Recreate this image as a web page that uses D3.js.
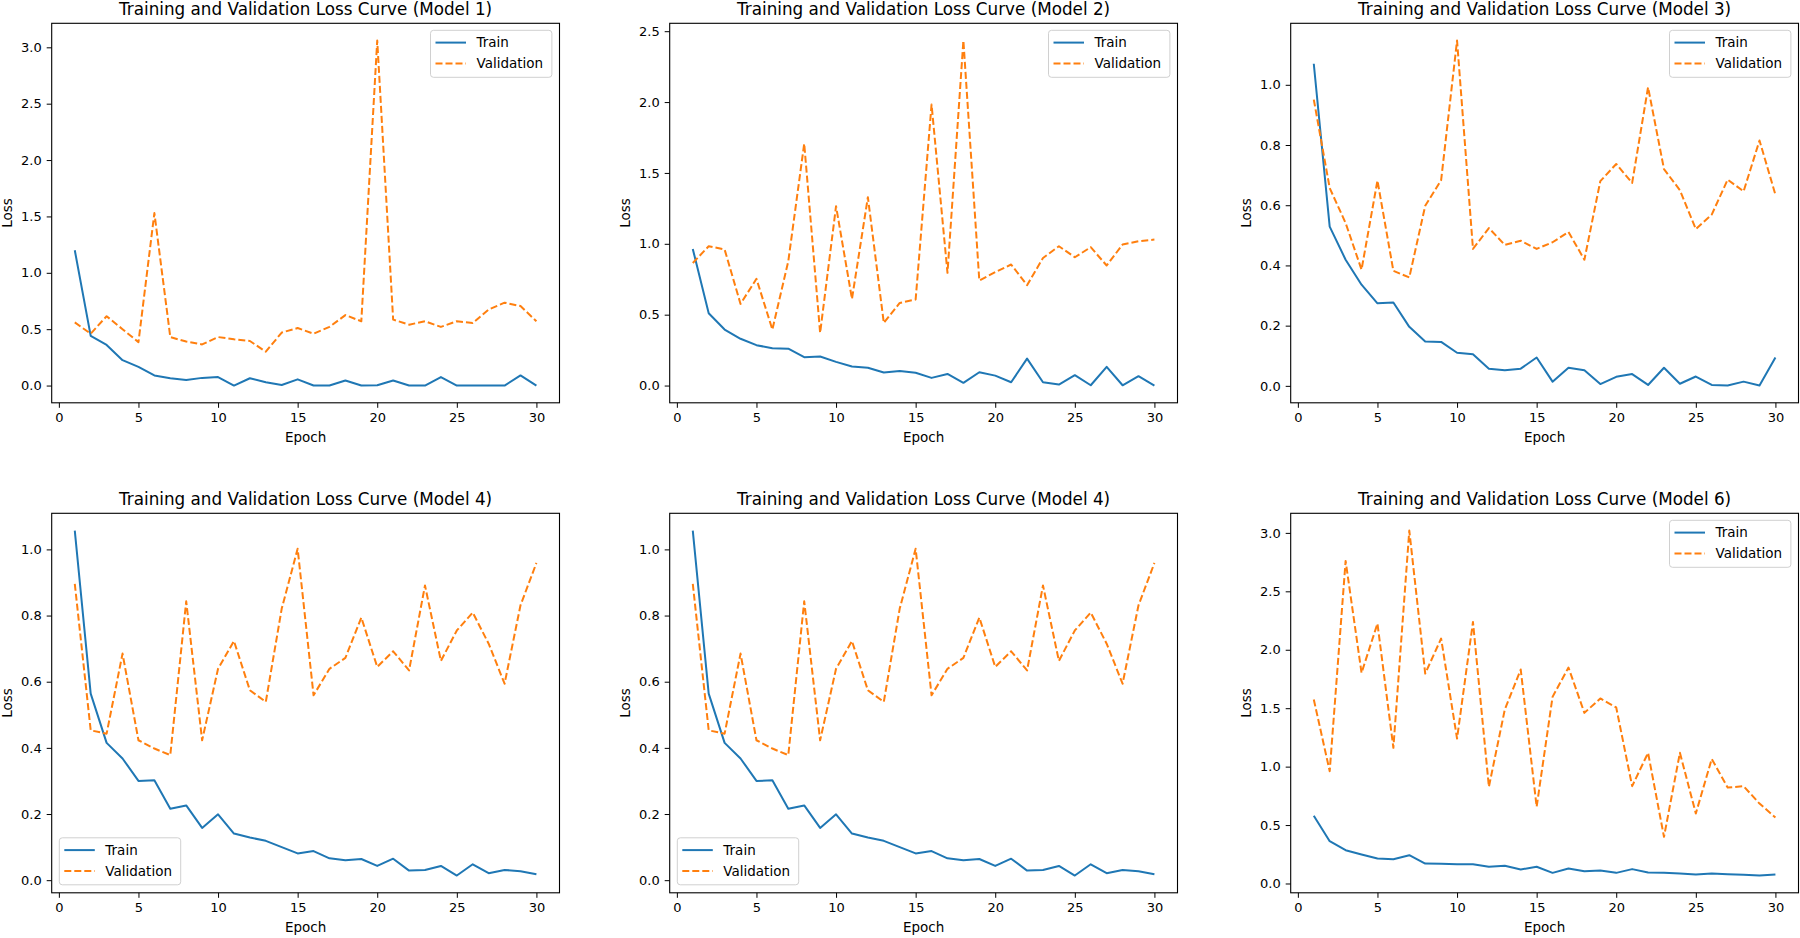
<!DOCTYPE html>
<html>
<head>
<meta charset="utf-8">
<script src="https://cdn.jsdelivr.net/npm/d3@7"></script>
<style>
  html, body { margin: 0; padding: 0; background: #fff; }
  svg { display: block; font-family: "DejaVu Sans", sans-serif; }
</style>
</head>
<body>
<svg id="chart" width="1800" height="938"></svg>
<script>
// ---------------- data ----------------
const epochs = d3.range(1, 31);
const xTicks = [0, 5, 10, 15, 20, 25, 30];

const titles = [
  "Training and Validation Loss Curve (Model 1)",
  "Training and Validation Loss Curve (Model 2)",
  "Training and Validation Loss Curve (Model 3)",
  "Training and Validation Loss Curve (Model 4)",
  "Training and Validation Loss Curve (Model 4)",
  "Training and Validation Loss Curve (Model 6)"
];

const trainM1 = [1.20,0.44,0.36,0.225,0.165,0.09,0.065,0.05,0.068,0.075,0.0,0.065,0.03,0.005,0.055,0.0,0.0,0.045,0.0,0.003,0.045,0.0,0.0,0.075,0.0,0.0,0.0,0.0,0.09,0.0];
const valM1   = [0.56,0.46,0.615,0.50,0.385,1.53,0.43,0.39,0.365,0.43,0.41,0.395,0.30,0.47,0.51,0.46,0.52,0.625,0.57,3.06,0.585,0.54,0.57,0.52,0.57,0.555,0.675,0.735,0.705,0.57];

const trainM2 = [0.964,0.51,0.395,0.33,0.285,0.263,0.26,0.20,0.205,0.167,0.134,0.125,0.092,0.103,0.09,0.054,0.082,0.019,0.094,0.07,0.023,0.19,0.023,0.007,0.073,0.002,0.132,0.002,0.066,0.0];
const valM2   = [0.865,0.983,0.96,0.576,0.753,0.395,0.877,1.707,0.372,1.265,0.611,1.329,0.442,0.583,0.607,1.983,0.795,2.434,0.741,0.80,0.854,0.708,0.90,0.983,0.905,0.976,0.847,0.995,1.018,1.03];

const trainM3 = [1.07,0.529,0.419,0.336,0.274,0.277,0.196,0.147,0.146,0.11,0.105,0.057,0.052,0.057,0.094,0.014,0.06,0.052,0.006,0.03,0.039,0.003,0.06,0.007,0.031,0.003,0.001,0.014,0.001,0.094];
const valM3   = [0.951,0.657,0.541,0.386,0.682,0.382,0.36,0.598,0.683,1.147,0.455,0.524,0.468,0.482,0.455,0.477,0.511,0.419,0.68,0.737,0.674,0.992,0.72,0.65,0.521,0.569,0.685,0.646,0.815,0.635];

const trainM4 = [1.057,0.564,0.415,0.368,0.30,0.302,0.216,0.226,0.158,0.199,0.141,0.129,0.119,0.10,0.081,0.088,0.066,0.06,0.064,0.043,0.065,0.029,0.031,0.043,0.014,0.048,0.021,0.031,0.027,0.018];
const valM4   = [0.896,0.453,0.443,0.685,0.423,0.398,0.378,0.843,0.423,0.639,0.723,0.574,0.539,0.821,1.002,0.559,0.639,0.672,0.794,0.645,0.692,0.634,0.891,0.663,0.755,0.809,0.715,0.594,0.831,0.959];

const trainM6 = [0.579,0.362,0.285,0.248,0.214,0.208,0.242,0.171,0.168,0.165,0.165,0.143,0.151,0.12,0.143,0.091,0.128,0.105,0.111,0.091,0.123,0.094,0.091,0.086,0.077,0.086,0.08,0.074,0.068,0.077];
const valM6   = [1.574,0.961,2.76,1.802,2.224,1.161,3.02,1.796,2.096,1.24,2.238,0.827,1.488,1.831,0.656,1.597,1.848,1.46,1.583,1.506,0.833,1.118,0.399,1.118,0.599,1.066,0.821,0.833,0.684,0.565];

const yTicksM1 = [0.0,0.5,1.0,1.5,2.0,2.5,3.0];
const yTicksM2 = [0.0,0.5,1.0,1.5,2.0,2.5];
const yTicksM3 = [0.0,0.2,0.4,0.6,0.8,1.0];
const yTicksM4 = [0.0,0.2,0.4,0.6,0.8,1.0];
const yTicksM6 = [0.0,0.5,1.0,1.5,2.0,2.5,3.0];

const seriesNames = ["Train", "Validation"];
const legendCorner = ["upper right","upper right","upper right","lower left","lower left","upper right"];

// ---------------- layout ----------------
const C0 = "#1f77b4", C1 = "#ff7f0e";
const frameLefts = [51.7, 669.7, 1290.7];
const frameTops = [23.3, 513.3];
const FW = 507.8, FH = 379.5;

const panels = [
  {train: trainM1, val: valM1, yt: yTicksM1},
  {train: trainM2, val: valM2, yt: yTicksM2},
  {train: trainM3, val: valM3, yt: yTicksM3},
  {train: trainM4, val: valM4, yt: yTicksM4},
  {train: trainM4, val: valM4, yt: yTicksM4},
  {train: trainM6, val: valM6, yt: yTicksM6}
];

const svg = d3.select("#chart");

panels.forEach((p, i) => {
  const col = i % 3, row = Math.floor(i / 3);
  const g = svg.append("g").attr("transform", `translate(${frameLefts[col]},${frameTops[row]})`);

  const xPad = (30 - 1) * 0.05;
  const x = d3.scaleLinear().domain([1 - xPad, 30 + xPad]).range([0, FW]);
  const all = p.train.concat(p.val);
  const lo = d3.min(all), hi = d3.max(all), pad = (hi - lo) * 0.05;
  const y = d3.scaleLinear().domain([lo - pad, hi + pad]).range([FH, 0]);

  // lines
  const lineGen = d3.line().x((d, k) => x(epochs[k])).y(d => y(d));
  g.append("path").datum(p.train).attr("d", lineGen)
    .attr("fill", "none").attr("stroke", C0).attr("stroke-width", 2)
    .attr("stroke-linejoin", "round");
  g.append("path").datum(p.val).attr("d", lineGen)
    .attr("fill", "none").attr("stroke", C1).attr("stroke-width", 2)
    .attr("stroke-dasharray", "7,3").attr("stroke-linejoin", "round");

  // axes
  const xa = g.append("g").attr("transform", `translate(0,${FH})`)
    .call(d3.axisBottom(x).tickValues(xTicks).tickFormat(d3.format("d")).tickSize(5).tickPadding(5).tickSizeOuter(0));
  const ya = g.append("g")
    .call(d3.axisLeft(y).tickValues(p.yt).tickFormat(d3.format(".1f")).tickSize(5).tickPadding(5).tickSizeOuter(0));
  [xa, ya].forEach(a => {
    a.select(".domain").remove();
    a.selectAll("line").attr("stroke", "#000").attr("stroke-width", 1);
    a.selectAll("text").attr("fill", "#000").attr("font-size", 13).attr("font-family", "DejaVu Sans");
  });

  // frame
  g.append("rect").attr("x", 0).attr("y", 0).attr("width", FW).attr("height", FH)
    .attr("fill", "none").attr("stroke", "#000").attr("stroke-width", 1.1);

  // title & labels
  g.append("text").attr("x", FW / 2).attr("y", -8.5).attr("text-anchor", "middle")
    .attr("font-size", 16.8).attr("fill", "#000").text(titles[i]);
  g.append("text").attr("x", FW / 2).attr("y", FH + 39).attr("text-anchor", "middle")
    .attr("font-size", 13.5).attr("fill", "#000").text("Epoch");
  g.append("text").attr("transform", `translate(-39.5,${FH / 2}) rotate(-90)`)
    .attr("text-anchor", "middle").attr("font-size", 13.5).attr("fill", "#000").text("Loss");

  // legend
  const LW = 121.4, LH = 47;
  const lx = legendCorner[i] === "upper right" ? FW - 7.6 - LW : 7.6;
  const ly = legendCorner[i] === "upper right" ? 7 : FH - 8 - LH;
  const lg = g.append("g").attr("transform", `translate(${lx},${ly})`);
  lg.append("rect").attr("width", LW).attr("height", LH).attr("rx", 3)
    .attr("fill", "#fff").attr("fill-opacity", 0.8).attr("stroke", "#d0d0d0").attr("stroke-width", 1);
  seriesNames.forEach((nm, k) => {
    const yy = 12.3 + k * 21;
    lg.append("line").attr("x1", 5).attr("x2", 35.5).attr("y1", yy).attr("y2", yy)
      .attr("stroke", k === 0 ? C0 : C1).attr("stroke-width", 2)
      .attr("stroke-dasharray", k === 0 ? null : "7,3");
    lg.append("text").attr("x", 46).attr("y", yy).attr("dy", "0.35em")
      .attr("font-size", 13.5).attr("fill", "#000").text(nm);
  });
});
</script>
</body>
</html>
